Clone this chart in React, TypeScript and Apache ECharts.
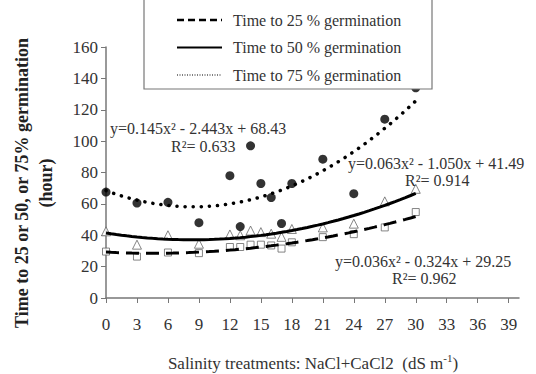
import React, { useEffect, useRef } from "react";
import * as echarts from "echarts";

const xValues = [0, 3, 6, 9, 12, 13, 14, 15, 16, 17, 18, 21, 24, 27, 30];
const t25 = [29.6, 26.4, 29, 28.6, 32.5, 32.5, 34, 34, 33.5, 31.5, 35.5, 38.8, 40.7, 45, 54.8];
const t50 = [42.5, 34, 40, 34.6, 40.5, 40, 43, 42, 41, 39, 44, 45, 47.4, 61.6, 69.6];
const t75 = [67.5, 60.5, 61, 48, 78, 45.5, 97, 73, 64, 47.5, 73, 88.5, 66.5, 114, 134];

// printed trend-line equations (a x^2 + b x + c)
const fit25 = [0.036, -0.324, 29.25];
const fit50 = [0.063, -1.05, 41.49];
const fit75 = [0.145, -2.443, 68.43];

const xTicks = [0, 3, 6, 9, 12, 15, 18, 21, 24, 27, 30, 33, 36, 39];
const legendLabels = [
  "Time to 25 % germination",
  "Time to 50 % germination",
  "Time to 75 % germination",
];
const equations = [
  "y=0.145x² - 2.443x + 68.43",
  "R²= 0.633",
  "y=0.063x² - 1.050x + 41.49",
  "R²= 0.914",
  "y=0.036x² - 0.324x + 29.25",
  "R²= 0.962",
];

const SERIF = "Liberation Serif";

function curve(c: number[]) {
  const pts: number[][] = [];
  for (let i = 0; i <= 60; i++) {
    const x = i * 0.5;
    pts.push([x, c[0] * x * x + c[1] * x + c[2]]);
  }
  return pts;
}

export default function App() {
  const ref = useRef<HTMLDivElement>(null);
  useEffect(() => {
    if (!ref.current) return;
    const chart = echarts.init(ref.current, undefined, { renderer: "svg" });
    const pair = (ys: number[]) => xValues.map((x, i) => [x, ys[i]]);
    const eqText = (text: string, x: number, y: number) => ({
      type: "text",
      x,
      y,
      z: 50,
      style: {
        text,
        fill: "#333",
        fontFamily: SERIF,
        fontSize: 16,
        textAlign: "left",
        textVerticalAlign: "middle",
      },
    });
    const legendRow = (i: number, dash: any, lw: number) => [
      {
        type: "line",
        z: 101,
        shape: { x1: 177, y1: 20 + i * 27.5, x2: 222, y2: 20 + i * 27.5 },
        style: { stroke: "#000", lineWidth: lw, lineDash: dash },
      },
      {
        type: "text",
        z: 101,
        x: 233,
        y: 20 + i * 27.5,
        style: {
          text: legendLabels[i],
          fill: "#333",
          fontFamily: SERIF,
          fontSize: 16,
          textAlign: "left",
          textVerticalAlign: "middle",
        },
      },
    ];
    chart.setOption({
      animation: false,
      textStyle: { fontFamily: SERIF },
      grid: { left: 106, right: 17, top: 47, bottom: 76, containLabel: false },
      xAxis: {
        type: "value",
        min: 0,
        max: 40,
        interval: 3,
        splitLine: { show: false },
        axisLine: { lineStyle: { color: "#777", width: 1.5 } },
        axisTick: { show: true, length: 5, customValues: xTicks, lineStyle: { color: "#777" } },
        axisLabel: {
          customValues: xTicks,
          color: "#333",
          fontFamily: SERIF,
          fontSize: 17,
          margin: 18,
        },
      },
      yAxis: {
        type: "value",
        min: 0,
        max: 160,
        interval: 20,
        splitLine: { show: false },
        axisLine: { show: true, lineStyle: { color: "#777", width: 1.5 } },
        axisTick: { show: true, length: 5, lineStyle: { color: "#777" } },
        axisLabel: { color: "#333", fontFamily: SERIF, fontSize: 17, margin: 8 },
      },
      series: [
        {
          type: "scatter",
          data: pair(t25),
          symbol: "rect",
          symbolSize: 7,
          itemStyle: { color: "#fff", borderColor: "#666", borderWidth: 1 },
          z: 3,
        },
        {
          type: "scatter",
          data: pair(t50),
          symbol: "triangle",
          symbolSize: 9,
          itemStyle: { color: "#fff", borderColor: "#666", borderWidth: 1 },
          z: 3,
        },
        {
          type: "scatter",
          data: pair(t75),
          symbol: "circle",
          symbolSize: 9,
          itemStyle: { color: "#000" },
          z: 3,
        },
        {
          type: "line",
          data: curve(fit25),
          showSymbol: false,
          lineStyle: { color: "#000", width: 3, type: [13, 7] },
          z: 4,
        },
        {
          type: "line",
          data: curve(fit50),
          showSymbol: false,
          lineStyle: { color: "#000", width: 3 },
          z: 4,
        },
        {
          type: "line",
          data: curve(fit75),
          showSymbol: false,
          lineStyle: { color: "#000", width: 3.5, type: [0.1, 8], cap: "round" },
          z: 4,
        },
      ],
      graphic: [
        eqText(equations[0], 110, 128),
        eqText(equations[1], 171, 146),
        eqText(equations[2], 348, 163),
        eqText(equations[3], 405, 180),
        eqText(equations[4], 335, 261),
        eqText(equations[5], 392, 278),
        {
          type: "rect",
          z: 100,
          shape: { x: 144, y: -5, width: 288, height: 94 },
          style: { fill: "#fff", stroke: "#777", lineWidth: 1.2 },
        },
        ...legendRow(0, [7, 4], 2.5),
        ...legendRow(1, null, 2.2),
        ...legendRow(2, [1, 1.5], 1.2),
        {
          type: "text",
          x: 22,
          y: 183,
          rotation: Math.PI / 2,
          style: {
            text: "Time to 25 or 50, or 75% germination",
            fill: "#222",
            fontFamily: SERIF,
            fontWeight: "bold",
            fontSize: 18,
            textAlign: "center",
            textVerticalAlign: "middle",
          },
        },
        {
          type: "text",
          x: 46,
          y: 183,
          rotation: Math.PI / 2,
          style: {
            text: "(hour)",
            fill: "#222",
            fontFamily: SERIF,
            fontWeight: "bold",
            fontSize: 18,
            textAlign: "center",
            textVerticalAlign: "middle",
          },
        },
        {
          type: "text",
          x: 313,
          y: 362,
          style: {
            text: "{a|Salinity treatments: NaCl+CaCl2  (dS m}{s|-1}{a|)}",
            fontFamily: SERIF,
            textAlign: "center",
            textVerticalAlign: "middle",
            rich: {
              a: { fontFamily: SERIF, fontSize: 17, fill: "#333", lineHeight: 20, verticalAlign: "bottom" },
              s: { fontFamily: SERIF, fontSize: 11, fill: "#333", lineHeight: 20, verticalAlign: "top" },
            },
          },
        },
      ],
    });
    return () => chart.dispose();
  }, []);
  return (
    <div
      ref={ref}
      style={{ position: "absolute", left: 0, top: 0, width: 536, height: 374 }}
    />
  );
}
